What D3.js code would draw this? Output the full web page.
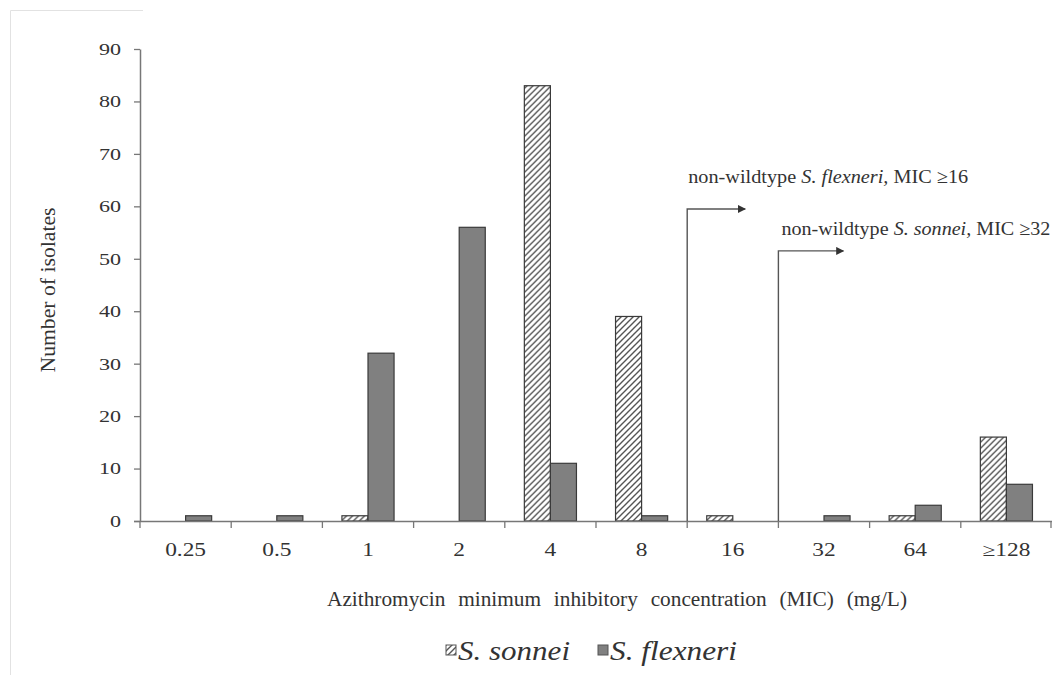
<!DOCTYPE html>
<html>
<head>
<meta charset="utf-8">
<script src="https://cdn.jsdelivr.net/npm/d3@7"></script>
<style>
  body { margin: 0; background: #fff; }
  svg { display: block; font-family: "Liberation Serif", serif; }
  text { font-family: "Liberation Serif", serif; fill: #333; }
</style>
</head>
<body>
<svg id="chart"></svg>
<script>
// MIC categories (mg/L)
var categories = ["0.25", "0.5", "1", "2", "4", "8", "16", "32", "64", "\u2265128"];
var seriesNames = ["S. sonnei", "S. flexneri"];

// number of isolates per MIC
var sonnei   = [0, 0, 1, 0, 83, 39, 1, 0, 1, 16];
var flexneri = [1, 1, 32, 56, 11, 1, 0, 1, 3, 7];

var yTicks = [0, 10, 20, 30, 40, 50, 60, 70, 80, 90];

// breakpoint annotations
var breakAt    = ["16", "32"];
var breakLevel = [59.5, 51.5];
var breakText  = [
  ["non-wildtype ", "S. flexneri,", " MIC \u226516"],
  ["non-wildtype ", "S. sonnei,", " MIC \u226532"]
];

var screen = { width: 1054, height: 675 };
var margins = { top: 49, bottom: 154, left: 140, right: 2 };

var svg = d3.select("#chart")
    .attr("width", screen.width)
    .attr("height", screen.height);

var defs = svg.append("defs");

// hatch for S. sonnei
var hatch = defs.append("pattern")
    .attr("id", "hatch")
    .attr("patternUnits", "userSpaceOnUse")
    .attr("width", 6)
    .attr("height", 6);
hatch.append("rect").attr("width", 6).attr("height", 6).attr("fill", "#fff");
hatch.append("path")
    .attr("d", "M0,6 L6,0 M-1.5,1.5 L1.5,-1.5 M4.5,7.5 L7.5,4.5")
    .attr("stroke", "#555")
    .attr("stroke-width", 1.4);

defs.append("marker")
    .attr("id", "arrow")
    .attr("viewBox", "0 0 10 10")
    .attr("refX", 9)
    .attr("refY", 5)
    .attr("markerWidth", 10)
    .attr("markerHeight", 8)
    .attr("markerUnits", "userSpaceOnUse")
    .attr("orient", "auto")
  .append("path")
    .attr("d", "M0,0 L10,5 L0,10 Z")
    .attr("fill", "#333");

// faint frame lines of the source page
svg.append("path")
    .attr("d", "M10.5,675 L10.5,10.5 L143,10.5")
    .attr("fill", "none")
    .attr("stroke", "#e2e2e2")
    .attr("stroke-width", 1);

var x = d3.scaleBand()
    .domain(categories)
    .range([margins.left, screen.width - margins.right])
    .padding(0);

var x1 = d3.scaleBand()
    .domain(seriesNames)
    .range([0, x.bandwidth()])
    .paddingInner(0)
    .paddingOuter(0.75);

var y = d3.scaleLinear()
    .domain([0, 90])
    .range([screen.height - margins.bottom, margins.top]);

var fills = { "S. sonnei": "url(#hatch)", "S. flexneri": "#808080" };

var rows = categories.map(function(c, i) {
  return { cat: c, values: [
    { key: "S. sonnei", value: sonnei[i] },
    { key: "S. flexneri", value: flexneri[i] }
  ]};
});

// bars
svg.append("g")
  .selectAll("g")
  .data(rows)
  .join("g")
    .attr("transform", function(d) { return "translate(" + x(d.cat) + ",0)"; })
  .selectAll("rect")
  .data(function(d) { return d.values.filter(function(v) { return v.value > 0; }); })
  .join("rect")
    .attr("x", function(d) { return x1(d.key); })
    .attr("y", function(d) { return y(d.value); })
    .attr("width", x1.bandwidth())
    .attr("height", function(d) { return y(0) - y(d.value); })
    .attr("fill", function(d) { return fills[d.key]; })
    .attr("stroke", "#3a3a3a")
    .attr("stroke-width", 1.2);

// y axis
var yAxis = svg.append("g")
    .attr("transform", "translate(" + margins.left + ",0)")
    .call(d3.axisLeft(y).tickValues(yTicks).tickSize(6).tickSizeOuter(0));
yAxis.attr("font-family", null);
yAxis.select(".domain").attr("stroke", "#777").attr("stroke-width", 1.5);
yAxis.selectAll(".tick line").attr("stroke", "#777").attr("stroke-width", 1.3);
yAxis.selectAll(".tick text")
    .attr("x", 0)
    .attr("fill", "#333")
    .attr("transform", "translate(-19,0) scale(1.3,1)")
    .style("font-size", "17px");

// x axis: labels at band centres, ticks at band edges
var xAxis = svg.append("g")
    .attr("transform", "translate(0," + y(0) + ")")
    .call(d3.axisBottom(x).tickSize(0).tickPadding(0));
xAxis.attr("font-family", null);
xAxis.select(".domain")
    .attr("d", "M" + (margins.left - 6) + ",0.5H" + (screen.width - margins.right))
    .attr("stroke", "#777").attr("stroke-width", 1.5);
xAxis.selectAll(".tick text")
    .attr("y", 0)
    .attr("dy", 0)
    .attr("fill", "#333")
    .attr("transform", "translate(0,35) scale(1.3,1)")
    .style("font-size", "18px");

var edges = categories.map(function(c) { return x(c); }).concat([x.range()[1] - 1]);
xAxis.selectAll(".edge")
  .data(edges)
  .join("line")
    .attr("class", "edge")
    .attr("x1", function(d) { return d; })
    .attr("x2", function(d) { return d; })
    .attr("y1", 0)
    .attr("y2", 7)
    .attr("stroke", "#777")
    .attr("stroke-width", 1.3);

// breakpoint arrows
var arrowLen = [58, 65];
var textLift = [26, 16];
var textWidth = [280, 269];
breakAt.forEach(function(c, i) {
  var bx = x(c), by = y(breakLevel[i]);
  svg.append("path")
      .attr("d", "M" + bx + "," + y(0) + " L" + bx + "," + by + " L" + (bx + arrowLen[i]) + "," + by)
      .attr("fill", "none")
      .attr("stroke", "#555")
      .attr("stroke-width", 1.4)
      .attr("marker-end", "url(#arrow)");

  var t = svg.append("text")
      .attr("x", bx + (i === 0 ? 1 : 3))
      .attr("y", by - textLift[i])
      .attr("textLength", textWidth[i])
      .attr("lengthAdjust", "spacingAndGlyphs")
      .style("font-size", "19px");
  t.append("tspan").text(breakText[i][0]);
  t.append("tspan").style("font-style", "italic").text(breakText[i][1]);
  t.append("tspan").text(breakText[i][2]);
});

// axis titles
svg.append("text")
    .attr("x", 617)
    .attr("y", 606)
    .attr("text-anchor", "middle")
    .attr("textLength", 580)
    .attr("lengthAdjust", "spacingAndGlyphs")
    .style("font-size", "20px")
    .style("word-spacing", "7px")
    .text("Azithromycin minimum inhibitory concentration (MIC) (mg/L)");

svg.append("text")
    .attr("transform", "translate(55,290) rotate(-90)")
    .attr("text-anchor", "middle")
    .attr("textLength", 165)
    .attr("lengthAdjust", "spacingAndGlyphs")
    .style("font-size", "20px")
    .text("Number of isolates");

// legend
var legendX = [446, 598];
var legendW = [112, 127];
var legend = svg.append("g")
  .selectAll("g")
  .data(seriesNames)
  .join("g")
    .attr("transform", function(d, i) { return "translate(" + legendX[i] + ",645)"; });
legend.append("rect")
    .attr("width", 10)
    .attr("height", 10)
    .attr("fill", function(d) { return fills[d]; })
    .attr("stroke", "#555")
    .attr("stroke-width", 1);
legend.append("text")
    .attr("x", 12)
    .attr("y", 15)
    .attr("textLength", function(d, i) { return legendW[i]; })
    .attr("lengthAdjust", "spacingAndGlyphs")
    .style("font-size", "28px")
    .style("font-style", "italic")
    .text(function(d) { return d; });
</script>
</body>
</html>
